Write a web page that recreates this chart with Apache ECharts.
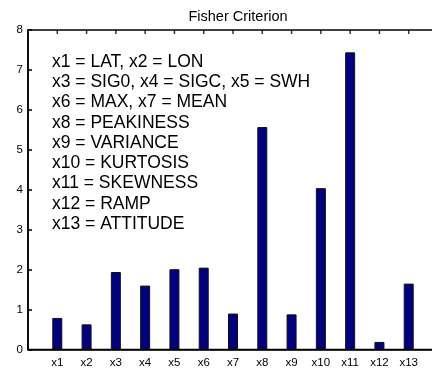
<!DOCTYPE html>
<html>
<head>
<meta charset="utf-8">
<script src="https://cdn.jsdelivr.net/npm/echarts@6/dist/echarts.min.js"></script>
<style>html,body{margin:0;padding:0;background:#fff;}#c{width:432px;height:370px;}</style>
</head>
<body>
<div id="c"></div>
<script>
const categories = ['x1','x2','x3','x4','x5','x6','x7','x8','x9','x10','x11','x12','x13'];
const values = [0.79, 0.63, 1.94, 1.6, 2.01, 2.05, 0.9, 5.57, 0.88, 4.04, 7.44, 0.19, 1.65];
const yTicks = [0,1,2,3,4,5,6,7,8];
const legendLines = [
  'x1 = LAT, x2 = LON',
  'x3 = SIG0, x4 = SIGC, x5 = SWH',
  'x6 = MAX, x7 = MEAN',
  'x8 = PEAKINESS',
  'x9 = VARIANCE',
  'x10 = KURTOSIS',
  'x11 = SKEWNESS',
  'x12 = RAMP',
  'x13 = ATTITUDE'
];
const titleText = 'Fisher Criterion';

const yMax = yTicks[yTicks.length-1];
const chart = echarts.init(document.getElementById('c'), null, {renderer:'canvas'});
const font = 'Liberation Sans, Arial, sans-serif';
const axisLineStyle = {color:'#000', width:1.5};
chart.setOption({
  backgroundColor:'#fff',
  animation:false,
  title:{
    text:titleText, left:233, top:4, textAlign:'center',
    textStyle:{fontFamily:font, fontSize:14.5, fontWeight:'normal', color:'#000'}
  },
  grid:{left:28, right:-6, top:30, bottom:20.5, containLabel:false, outerBoundsMode:'none',
        show:true, borderColor:'#000', borderWidth:1.5, backgroundColor:'transparent'},
  xAxis:{
    type:'value', min:0, max:categories.length+1, interval:1, position:'bottom',
    axisLine:{show:true, onZero:false, lineStyle:axisLineStyle},
    axisTick:{show:true, inside:true, length:4, lineStyle:axisLineStyle},
    splitLine:{show:false},
    axisLabel:{
      margin:7, fontFamily:font, fontSize:11.5, color:'#000',
      showMinLabel:true, showMaxLabel:true, hideOverlap:false,
      formatter:function(v){ return categories[v-1] || ''; }
    }
  },
  yAxis:{
    type:'value', min:yTicks[0], max:yMax, interval:1,
    axisLine:{show:true, onZero:false, lineStyle:axisLineStyle},
    axisTick:{show:true, inside:true, length:4, lineStyle:axisLineStyle},
    splitLine:{show:false},
    axisLabel:{margin:5, fontFamily:font, fontSize:11.5, color:'#000'}
  },
  graphic:[{
    type:'text', left:52, top:52, z:10,
    style:{
      text:legendLines.join('\n'), fontFamily:font, fontSize:17.5, lineHeight:20.25,
      fill:'#000'
    }
  }],
  series:[{
    type:'bar',
    data:values.map(function(v,i){ return [i+1, v]; }),
    barWidth:10,
    itemStyle:{color:'#000080', borderColor:'#111', borderWidth:1}
  },{
    type:'scatter', silent:true, clip:false,
    data:categories.map(function(c,i){ return [i+1, yMax]; }),
    symbol:'rect', symbolSize:[1.5,4], symbolOffset:[0,2],
    itemStyle:{color:'#000'}
  }]
});
</script>
</body>
</html>
